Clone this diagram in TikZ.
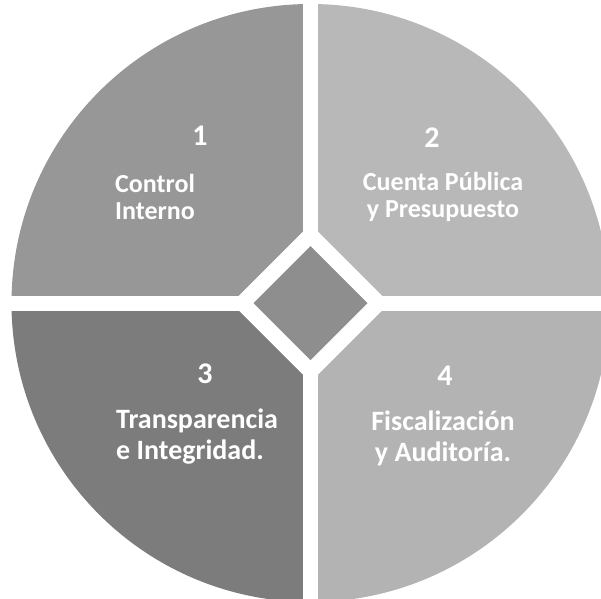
\documentclass[tikz,border=0pt]{standalone}
\usepackage{fontspec}
\setmainfont{Carlito}
\usetikzlibrary{calc}
\definecolor{qone}{HTML}{979797}
\definecolor{qtwo}{HTML}{B8B8B8}
\definecolor{qthree}{HTML}{7C7C7C}
\definecolor{qfour}{HTML}{B3B3B3}
\definecolor{qcenter}{HTML}{8E8E8E}
\begin{document}
\begin{tikzpicture}[x=1pt,y=-1pt,
  lbl/.style={text=white,font=\bfseries\fontsize{26}{27}\selectfont,inner sep=0pt},
  lblb/.style={text=white,font=\bfseries\fontsize{28}{31}\selectfont,inner sep=0pt},
  num/.style={text=white,font=\bfseries\fontsize{30}{30}\selectfont,inner sep=0pt}]
\useasboundingbox (0,0) rectangle (601,598);
\coordinate (c) at (310.5,303);
% quadrants
\fill[qone] (c) -- ++(-299,0) arc[start angle=180,end angle=270,radius=299] -- cycle;
\fill[qtwo] (c) -- ++(0,-299) arc[start angle=270,end angle=360,radius=299] -- cycle;
\fill[qthree] (c) -- ++(-299,0) arc[start angle=180,end angle=90,radius=299] -- cycle;
\fill[qfour] (c) -- ++(299,0) arc[start angle=0,end angle=90,radius=299] -- cycle;
% gaps
\fill[white] ($(c)+(-310,-7.5)$) rectangle ($(c)+(310,7.5)$);
\fill[white] ($(c)+(-7.5,-310)$) rectangle ($(c)+(7.5,310)$);
\fill[white] ($(c)+(0,-79)$) -- ($(c)+(79,0)$) -- ($(c)+(0,79)$) -- ($(c)+(-79,0)$) -- cycle;
\fill[qcenter] ($(c)+(0,-57)$) -- ($(c)+(57,0)$) -- ($(c)+(0,57)$) -- ($(c)+(-57,0)$) -- cycle;
% labels
\node[num] (n1) at (200,136) {1};
\node[lbl,align=left,anchor=west] (t1) at (115,197) {Control\\Interno};
\node[num] (n2) at (432,138) {2};
\node[lbl,align=center] (t2) at (443,197) {Cuenta Pública\\y Presupuesto};
\node[num] (n3) at (205,374) {3};
\node[lblb,align=left,anchor=west] (t3) at (116,437) {Transparencia\\e Integridad.};
\node[num] (n4) at (445,376) {4};
\node[lblb,align=center] (t4) at (443,438) {Fiscalización\\y Auditoría.};
\end{tikzpicture}
\end{document}
